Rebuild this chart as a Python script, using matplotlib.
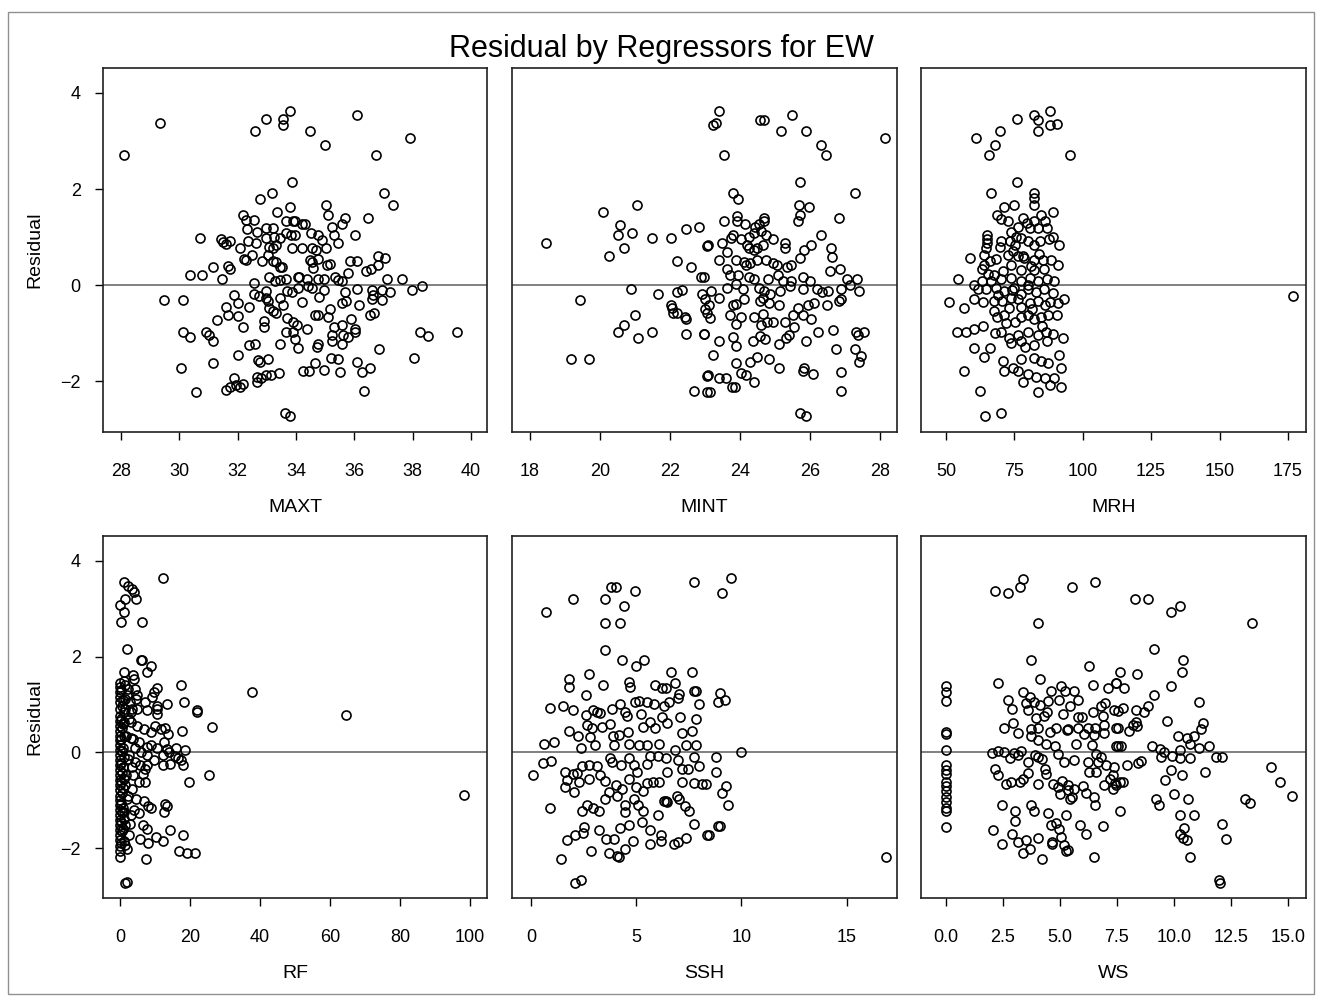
import matplotlib
matplotlib.use("Agg")
import matplotlib.pyplot as plt
from matplotlib.patches import Rectangle

plt.rcParams['font.family'] = ['Liberation Sans', 'DejaVu Sans']

TITLE = "Residual by Regressors for EW"
YLABEL = "Residual"
REGRESSORS = ["MAXT", "MINT", "MRH", "RF", "SSH", "WS"]

Y_TICKS = [-2, 0, 2, 4]
X_TICKS = {
    "MAXT": [28, 30, 32, 34, 36, 38, 40],
    "MINT": [18, 20, 22, 24, 26, 28],
    "MRH": [50, 75, 100, 125, 150, 175],
    "RF": [0, 20, 40, 60, 80, 100],
    "SSH": [0, 5, 10, 15],
    "WS": [0.0, 2.5, 5.0, 7.5, 10.0, 12.5, 15.0],
}
X_TICK_LABELS = {
    "WS": ["0.0", "2.5", "5.0", "7.5", "10.0", "12.5", "15.0"],
}

MAXT_PTS = [
    (28.1, 2.70), (29.35, 3.37), (32.6, 3.2), (32.98, 3.45), (33.55, 3.46), (33.55, 3.33), (33.78, 3.63),
    (33.85, 2.14), (33.19, 1.92), (32.75, 1.79), (33.35, 1.52), (33.78, 1.62), (32.18, 1.45), (32.27, 1.36),
    (32.55, 1.35), (32.32, 1.17), (32.66, 1.10), (32.98, 1.19), (33.21, 1.19), (33.64, 1.34), (33.9, 1.34),
    (30.72, 0.99), (31.44, 0.95), (31.49, 0.89), (31.59, 0.85), (31.75, 0.92), (32.09, 0.77), (32.34, 0.91),
    (32.64, 0.88), (32.96, 0.98), (33.23, 1.01), (33.44, 0.98), (33.64, 1.08), (33.84, 1.05), (33.09, 0.80),
    (33.21, 0.77), (33.32, 0.84), (33.85, 0.77), (32.23, 0.55), (32.27, 0.52), (32.5, 0.62), (32.82, 0.51),
    (33.03, 0.63), (33.21, 0.51), (33.3, 0.47), (33.44, 0.37), (33.51, 0.38), (30.35, 0.20), (30.79, 0.20),
    (31.15, 0.37), (31.45, 0.12), (31.65, 0.40), (31.72, 0.34), (32.55, 0.04), (33.09, 0.16), (33.28, 0.08),
    (33.44, 0.11), (33.64, 0.13), (34.08, 0.16), (29.48, -0.31), (30.12, -0.31), (31.86, -0.20), (32.02, -0.37),
    (32.39, -0.45), (32.55, -0.19), (32.73, -0.22), (32.98, -0.12), (32.96, -0.27), (33.03, -0.34), (33.46, -0.27),
    (33.69, -0.12), (33.85, -0.15), (31.61, -0.45), (31.68, -0.62), (32.02, -0.65), (32.18, -0.88), (33.07, -0.47),
    (33.21, -0.55), (33.32, -0.59), (33.55, -0.42), (33.69, -0.69), (33.89, -0.76), (31.29, -0.72), (32.91, -0.74),
    (32.91, -0.87), (33.64, -0.97), (33.89, -0.98), (33.98, -1.12), (30.12, -0.98), (30.37, -1.09), (30.92, -0.98),
    (31.01, -1.04), (31.15, -1.16), (33.44, -1.22), (32.39, -1.24), (32.61, -1.22), (32.02, -1.45), (32.68, -1.56),
    (32.75, -1.61), (33.03, -1.55), (30.05, -1.72), (31.15, -1.62), (32.66, -1.92), (32.66, -2.01), (32.8, -1.94),
    (32.98, -1.88), (33.15, -1.87), (33.41, -1.84), (31.86, -1.94), (31.61, -2.19), (31.75, -2.13), (31.93, -2.08),
    (32.07, -2.12), (32.18, -2.06), (30.58, -2.23), (33.62, -2.67), (33.78, -2.72),
    (36.09, 3.55), (34.49, 3.2), (34.99, 2.92), (37.92, 3.06), (36.75, 2.70), (37.03, 1.92), (37.33, 1.66),
    (35.02, 1.66), (35.08, 1.45), (35.68, 1.39), (35.59, 1.27), (36.46, 1.39), (35.22, 1.21), (35.31, 1.05),
    (35.45, 0.87), (36.02, 1.05), (33.97, 1.33), (34.22, 1.27), (34.31, 1.27), (33.97, 1.05), (34.51, 1.09),
    (34.77, 1.05), (34.88, 0.94), (34.19, 0.77), (34.56, 0.77), (34.67, 0.74), (35.02, 0.77), (34.47, 0.52),
    (34.56, 0.49), (34.77, 0.55), (34.58, 0.36), (35.06, 0.42), (35.15, 0.44), (35.84, 0.51), (36.09, 0.51),
    (36.82, 0.6), (37.05, 0.56), (36.8, 0.42), (36.41, 0.30), (36.57, 0.34), (35.79, 0.26), (34.1, 0.16),
    (34.38, 0.13), (34.77, 0.13), (34.95, 0.13), (35.34, 0.16), (35.45, 0.1), (37.12, 0.12), (37.62, 0.12),
    (34.08, -0.06), (34.42, -0.03), (34.54, -0.06), (34.79, -0.24), (34.95, -0.11), (35.56, 0.08), (35.68, -0.14),
    (36.09, -0.08), (36.59, -0.1), (36.64, -0.2), (36.96, -0.11), (37.21, -0.14), (37.99, -0.1), (38.33, -0.02),
    (34.22, -0.36), (35.56, -0.37), (35.72, -0.34), (36.16, -0.42), (36.62, -0.28), (36.96, -0.31), (34.65, -0.63),
    (34.77, -0.63), (35.11, -0.66), (35.15, -0.49), (35.9, -0.70), (36.53, -0.63), (36.69, -0.59), (34.03, -0.83),
    (34.38, -0.92), (35.29, -0.88), (35.59, -0.84), (36.02, -0.92), (36.02, -0.98), (35.25, -1.04), (35.61, -1.04),
    (35.79, -1.09), (38.26, -0.98), (38.51, -1.06), (39.52, -0.98), (34.08, -1.31), (34.72, -1.30), (34.77, -1.23),
    (35.25, -1.17), (35.59, -1.23), (36.85, -1.33), (34.65, -1.63), (34.24, -1.80), (34.45, -1.80), (34.95, -1.77),
    (35.2, -1.51), (35.45, -1.55), (35.52, -1.81), (36.09, -1.61), (36.25, -1.81), (36.55, -1.73), (38.06, -1.51),
    (36.32, -2.20),
]

MINT_PTS = [
    (18.46, 0.87), (20.1, 1.52), (21.07, 1.66), (20.57, 1.26), (20.51, 1.05), (20.93, 1.09), (21.49, 0.99),
    (22.04, 0.99), (22.46, 1.17), (22.82, 1.21), (20.7, 0.77), (20.27, 0.6), (22.21, 0.51), (22.59, 0.38),
    (22.88, 0.16), (23.05, 0.81), (20.88, -0.09), (21.66, -0.19), (22.21, -0.15), (22.34, -0.10), (22.93, -0.19),
    (19.43, -0.32), (22.02, -0.41), (22.06, -0.47), (22.1, -0.59), (22.21, -0.58), (22.44, -0.66), (22.46, -0.70),
    (22.99, -0.30), (23.01, -0.49), (23.05, -0.59), (21.01, -0.63), (20.7, -0.84), (20.51, -0.98), (21.1, -1.11),
    (21.49, -0.98), (22.46, -1.02), (22.97, -1.02), (19.18, -1.55), (19.68, -1.55), (23.05, -1.90), (22.69, -2.20),
    (23.05, -2.22),
    (23.41, 3.63), (23.24, 3.33), (23.31, 3.38), (24.57, 3.44), (24.68, 3.44), (25.48, 3.55), (25.18, 3.2),
    (25.9, 3.2), (26.32, 2.92), (26.46, 2.7), (28.15, 3.06), (23.54, 2.70), (25.73, 2.14), (23.79, 1.92),
    (23.94, 1.79), (27.3, 1.92), (25.68, 1.66), (25.98, 1.62), (25.73, 1.46), (25.66, 1.34), (26.82, 1.39),
    (23.54, 1.34), (23.92, 1.44), (23.92, 1.34), (24.15, 1.27), (24.69, 1.39), (24.7, 1.34), (24.42, 1.21),
    (24.55, 1.28), (23.1, 0.83), (23.48, 0.88), (23.75, 0.98), (23.79, 1.05), (24.04, 0.95), (24.25, 1.0),
    (24.4, 1.09), (24.59, 1.13), (24.76, 1.05), (24.95, 0.95), (24.19, 0.84), (24.27, 0.77), (24.4, 0.72),
    (24.5, 0.77), (24.65, 0.84), (25.28, 0.88), (25.28, 0.78), (25.83, 0.73), (26.04, 0.83), (26.32, 1.05),
    (23.41, 0.52), (23.62, 0.69), (23.89, 0.52), (24.11, 0.49), (24.17, 0.42), (24.3, 0.46), (24.5, 0.52),
    (24.74, 0.52), (24.95, 0.46), (25.07, 0.42), (25.35, 0.37), (25.45, 0.42), (25.73, 0.56), (26.61, 0.77),
    (26.63, 0.59), (26.57, 0.30), (26.86, 0.33), (23.64, 0.34), (23.73, 0.21), (23.96, 0.21), (24.25, 0.16),
    (24.4, 0.13), (24.8, 0.12), (25.09, 0.2), (25.22, 0.08), (25.47, 0.08), (25.79, 0.16), (26.0, 0.08),
    (27.07, 0.12), (27.35, 0.12), (27.16, 0.0), (22.97, 0.16), (23.18, -0.13), (23.41, -0.27), (23.64, -0.06),
    (23.9, 0.02), (24.1, -0.09), (24.55, -0.06), (24.69, -0.13), (24.86, -0.19), (25.14, -0.13), (25.43, -0.01),
    (25.79, -0.09), (26.21, -0.08), (26.34, -0.15), (26.51, -0.12), (26.88, -0.09), (27.41, -0.13), (23.12, -0.42),
    (23.16, -0.69), (23.79, -0.42), (23.89, -0.40), (24.13, -0.29), (24.57, -0.34), (24.67, -0.27), (24.84, -0.37),
    (25.12, -0.41), (25.66, -0.48), (25.79, -0.63), (25.96, -0.42), (26.11, -0.37), (26.49, -0.42), (26.82, -0.34),
    (26.88, -0.30), (23.73, -0.62), (24.04, -0.66), (24.4, -0.66), (24.65, -0.60), (24.95, -0.76), (25.29, -0.76),
    (25.52, -0.63), (26.04, -0.70), (22.97, -1.02), (23.9, -0.81), (24.61, -0.83), (24.78, -0.76), (23.41, -1.16),
    (23.79, -1.08), (23.89, -1.26), (24.38, -1.16), (24.57, -1.06), (24.72, -1.12), (25.12, -1.23), (25.31, -1.11),
    (25.41, -1.04), (25.56, -0.87), (25.9, -1.16), (26.23, -0.98), (26.65, -0.94), (27.33, -0.98), (27.54, -0.98),
    (27.37, -1.04), (23.24, -1.45), (23.9, -1.63), (24.3, -1.60), (24.48, -1.49), (24.82, -1.55), (25.12, -1.72),
    (25.79, -1.80), (26.08, -1.86), (26.76, -1.33), (27.29, -1.34), (27.45, -1.48), (27.41, -1.61), (23.09, -1.88),
    (23.39, -1.94), (23.6, -1.94), (23.77, -2.12), (23.85, -2.12), (24.04, -1.83), (24.17, -1.87), (24.4, -2.02),
    (25.83, -1.73), (26.88, -1.81), (26.88, -2.20), (23.16, -2.23), (25.73, -2.67), (25.89, -2.73),
]

MRH_PTS = [
    (88.1, 3.63), (82.04, 3.55), (83.5, 3.44), (88.13, 3.33), (90.57, 3.35), (83.5, 3.2), (75.95, 3.46),
    (69.61, 3.2), (61.08, 3.06), (67.91, 2.92), (65.71, 2.70), (95.2, 2.70), (75.95, 2.14), (66.45, 1.92),
    (82.04, 1.92), (82.04, 1.81), (82.04, 1.67), (71.07, 1.62), (74.97, 1.67), (89.1, 1.52), (68.64, 1.45),
    (70.1, 1.37), (72.78, 1.33), (78.14, 1.39), (82.04, 1.33), (84.72, 1.45), (86.18, 1.34), (64.98, 1.05),
    (64.98, 0.96), (64.98, 0.87), (64.74, 0.77), (70.1, 0.91), (73.75, 1.10), (76.19, 1.21), (80.58, 1.19),
    (83.74, 1.19), (86.91, 1.19), (89.1, 1.01), (91.3, 0.84), (69.61, 0.80), (73.51, 0.91), (75.22, 0.84),
    (77.41, 0.98), (79.85, 0.91), (82.29, 0.84), (84.23, 0.91), (58.65, 0.56), (64.01, 0.63), (68.15, 0.55),
    (72.78, 0.63), (76.19, 0.60), (78.63, 0.56), (82.29, 0.52), (85.45, 0.52), (88.37, 0.53), (91.05, 0.41),
    (63.76, 0.42), (63.28, 0.33), (65.23, 0.22), (73.75, 0.42), (77.41, 0.31), (82.29, 0.31), (85.94, 0.33),
    (54.26, 0.13), (60.11, 0.0), (63.28, 0.08), (66.45, 0.08), (70.1, 0.12), (73.75, 0.15), (77.41, 0.08),
    (80.58, 0.15), (83.5, 0.08), (86.91, 0.13), (89.59, 0.08), (51.1, -0.36), (56.45, -0.48), (60.11, -0.30),
    (61.57, -0.09), (64.74, -0.09), (68.4, -0.06), (71.32, -0.13), (74.97, -0.06), (77.41, -0.19), (79.85, -0.09),
    (83.02, -0.15), (85.94, -0.08), (89.1, -0.17), (93.25, -0.30), (63.52, -0.36), (67.42, -0.34), (70.59, -0.34),
    (73.75, -0.27), (77.41, -0.45), (80.58, -0.37), (83.5, -0.33), (86.18, -0.42), (90.81, -0.38), (67.66, -0.55),
    (68.64, -0.67), (71.32, -0.62), (73.02, -0.48), (75.22, -0.76), (77.41, -0.67), (79.85, -0.62), (82.29, -0.70),
    (84.72, -0.66), (87.15, -0.62), (90.57, -0.63), (54.02, -0.98), (57.43, -0.98), (60.35, -0.92), (63.52, -0.86),
    (70.1, -0.97), (73.02, -1.11), (76.19, -1.04), (79.85, -0.97), (83.74, -1.04), (86.67, -0.97), (89.1, -1.02),
    (92.76, -1.11), (60.11, -1.31), (65.96, -1.31), (64.01, -1.49), (73.75, -1.21), (77.41, -1.17), (82.29, -1.24),
    (86.91, -1.17), (56.45, -1.80), (70.83, -1.59), (71.07, -1.79), (74.48, -1.73), (77.41, -1.55), (82.29, -1.52),
    (84.72, -1.59), (87.15, -1.63), (91.3, -1.45), (92.03, -1.72), (76.19, -1.80), (78.14, -2.01), (79.85, -1.86),
    (83.02, -1.91), (86.18, -1.94), (88.13, -2.08), (89.59, -1.94), (92.03, -2.12), (83.5, -2.23), (62.55, -2.20),
    (64.25, -2.72), (70.1, -2.67), (177.0, -0.23),
    (66.0, 0.50), (67.5, 0.20), (69.0, -0.20), (71.0, 0.30), (72.0, -0.80), (74.5, 0.70), (76.5, -0.30),
    (78.0, 0.60), (79.0, -1.30), (81.0, 0.40), (81.5, -0.50), (84.0, 0.65), (85.0, -0.85), (87.5, 0.95),
    (88.0, -0.35), (75.5, 1.00), (79.5, 1.30), (68.0, -1.00), (80.0, 0.00), (74.0, -0.10),
]

RF_PTS = [
    (1.1, 3.56), (2.3, 3.48), (3.4, 3.42), (4.0, 3.35), (4.6, 3.21), (1.5, 3.21), (0.0, 3.08), (1.0, 2.94),
    (0.2, 2.73), (6.3, 2.72), (12.4, 3.64), (2.1, 2.15), (5.9, 1.94), (6.3, 1.92), (8.8, 1.81), (7.6, 1.67),
    (1.0, 1.67), (3.8, 1.62), (4.0, 1.53), (17.3, 1.41), (37.8, 1.27), (64.5, 0.78), (98.4, -0.88),
    (0.0, 1.46), (0.0, 1.36), (0.0, 1.26), (0.0, 1.16), (0.0, 1.05), (0.0, 0.91), (0.0, 0.77), (0.0, 0.66),
    (0.0, 0.56), (0.0, 0.45), (0.0, 0.35), (0.0, 0.25), (0.0, 0.15), (0.0, 0.05), (0.0, -0.06), (0.0, -0.16),
    (0.0, -0.27), (0.0, -0.37), (0.0, -0.48), (0.0, -0.58), (0.0, -0.69), (0.0, -0.79), (0.0, -0.90), (0.0, -1.00),
    (0.0, -1.10), (0.0, -1.20), (0.0, -1.31), (0.0, -1.41), (0.0, -1.52), (0.0, -1.62), (0.0, -1.73), (0.0, -1.83),
    (0.0, -1.95), (0.0, -2.05), (0.0, -2.18),
    (0.4, 1.30), (0.5, 0.98), (0.3, 0.70), (0.6, 0.50), (0.4, 0.28), (0.5, 0.02), (0.3, -0.22), (0.6, -0.42),
    (0.4, -0.62), (0.5, -0.85), (0.3, -1.05), (0.6, -1.25), (0.4, -1.45), (0.5, -1.65), (0.3, -1.90), (0.8, 1.10),
    (0.9, 0.60), (0.8, 0.10), (0.9, -0.30), (0.8, -0.75), (0.9, -1.15), (0.8, -1.60), (1.0, 1.50), (1.1, 0.85),
    (1.2, 0.35), (1.1, -0.10), (1.0, -0.55), (1.2, -1.40), (1.1, -1.85), (2.5, 0.70), (2.6, -0.05), (2.4, -0.90),
    (2.0, 1.20), (3.5, 0.90), (3.0, 0.30), (3.3, -0.30), (2.8, -1.50), (4.2, 0.10), (4.0, -1.20),
    (1.33, 1.40), (2.29, 1.33), (4.19, 1.33), (4.95, 1.20), (1.33, 1.12), (2.86, 1.05), (4.57, 1.12), (1.52, 0.91),
    (3.05, 0.84), (4.95, 0.91), (7.24, 1.05), (7.81, 0.88), (10.48, 1.35), (9.71, 1.26), (9.14, 1.16), (10.67, 0.98),
    (10.67, 0.91), (10.67, 0.80), (13.52, 1.01), (18.29, 1.06), (22.1, 0.88), (22.1, 0.84), (26.3, 0.53), (17.7, 0.44),
    (1.14, 0.63), (3.05, 0.63), (4.95, 0.56), (6.86, 0.49), (8.76, 0.42), (9.9, 0.56), (11.62, 0.49), (12.95, 0.51),
    (13.71, 0.38), (1.71, 0.35), (3.62, 0.28), (5.33, 0.21), (7.62, 0.12), (8.76, 0.15), (10.67, 0.10), (12.57, 0.21),
    (13.52, 0.08), (16.0, 0.10), (18.48, 0.06), (5.9, 0.01), (7.81, -0.06), (9.71, -0.15), (12.19, -0.06),
    (14.1, 0.0), (15.81, -0.08), (16.57, -0.12), (17.52, -0.16), (2.29, -0.13), (4.19, -0.20), (5.71, -0.26),
    (7.24, -0.34), (12.19, -0.27), (14.29, -0.24), (18.1, -0.27), (19.81, -0.62), (25.33, -0.48), (1.71, -0.48),
    (3.81, -0.48), (6.48, -0.45), (7.62, -0.27), (1.52, -0.69), (3.43, -0.76), (5.52, -0.62), (7.05, -0.62),
    (2.1, -0.97), (4.57, -0.97), (6.86, -1.01), (8.0, -1.11), (8.95, -1.16), (12.95, -1.08), (13.52, -1.11),
    (12.57, -1.24), (1.14, -1.24), (3.05, -1.30), (5.33, -1.26), (1.33, -1.52), (2.48, -1.72), (6.67, -1.52),
    (7.81, -1.59), (14.29, -1.61), (18.1, -1.72), (5.71, -1.80), (8.0, -1.90), (10.29, -1.76), (12.38, -1.86),
    (2.1, -2.01), (1.52, -1.94), (16.76, -2.06), (19.05, -2.09), (21.52, -2.09), (7.43, -2.22), (1.33, -2.73),
    (1.9, -2.70),
]

SSH_PTS = [
    (9.51, 3.64), (9.1, 3.33), (8.97, 1.24), (8.87, 1.06), (9.22, 1.09), (9.98, 0.0), (8.78, -0.09), (8.78, -0.40),
    (8.33, -0.66), (9.29, -0.70), (9.1, -0.84), (9.38, -1.09), (8.46, -1.72), (8.87, -1.54), (8.97, -1.54),
    (16.87, -2.19),
    (7.76, 3.56), (3.82, 3.46), (4.05, 3.46), (4.97, 3.38), (3.54, 3.2), (4.43, 3.06), (2.02, 3.2), (0.71, 2.94),
    (3.54, 2.71), (4.21, 2.71), (3.54, 2.14), (4.33, 1.92), (5.0, 1.81), (5.38, 1.94), (1.83, 1.53), (1.83, 1.37),
    (2.75, 1.63), (3.41, 1.41), (4.65, 1.48), (4.71, 1.37), (2.62, 1.19), (6.68, 1.67), (7.67, 1.67), (5.92, 1.41),
    (6.24, 1.34), (6.43, 1.35), (6.87, 1.46), (7.03, 1.23), (7.76, 1.28), (7.86, 1.28), (7.98, 1.02), (0.9, 0.92),
    (1.51, 0.96), (2.02, 0.88), (2.62, 0.78), (2.94, 0.88), (3.13, 0.84), (3.29, 0.83), (3.86, 0.9), (4.24, 1.02),
    (4.49, 0.84), (4.97, 1.06), (5.13, 1.08), (5.51, 1.06), (5.83, 1.01), (6.33, 0.96), (6.56, 1.06), (6.97, 1.13),
    (2.68, 0.58), (2.9, 0.52), (3.38, 0.53), (3.76, 0.59), (3.89, 0.35), (4.17, 0.37), (4.56, 0.77), (4.59, 0.42),
    (5.25, 0.8), (5.35, 0.53), (5.67, 0.63), (5.92, 0.52), (6.24, 0.74), (6.49, 0.62), (7.1, 0.74), (7.19, 0.41),
    (7.67, 0.44), (7.86, 0.7), (0.62, 0.17), (1.1, 0.21), (1.83, 0.44), (2.24, 0.35), (2.37, 0.10), (2.81, 0.33),
    (3.06, 0.15), (3.95, 0.15), (4.65, 0.17), (5.13, 0.15), (5.54, 0.15), (6.08, 0.17), (6.87, 0.05), (7.35, 0.16),
    (7.83, 0.15), (0.59, -0.23), (0.94, -0.17), (1.63, -0.40), (2.17, -0.42), (2.43, -0.29), (2.78, -0.27),
    (3.16, -0.29), (3.76, -0.12), (3.86, -0.20), (4.27, -0.27), (4.65, -0.12), (4.9, -0.26), (5.06, -0.41),
    (5.51, -0.24), (5.67, -0.08), (6.05, -0.08), (6.43, -0.12), (6.97, -0.15), (7.19, -0.34), (7.48, -0.34),
    (7.76, -0.09), (7.98, -0.29), (0.08, -0.48), (1.98, -0.45), (2.27, -0.62), (1.7, -0.58), (1.6, -0.73),
    (2.05, -0.83), (2.75, -0.55), (3.29, -0.47), (3.54, -0.59), (4.05, -0.67), (4.65, -0.56), (5.0, -0.73),
    (5.35, -0.80), (5.54, -0.63), (5.79, -0.62), (6.11, -0.62), (6.46, -0.40), (7.16, -0.62), (7.76, -0.63),
    (8.14, -0.66), (0.9, -1.15), (2.43, -1.22), (2.68, -1.09), (2.94, -1.17), (3.25, -1.22), (3.51, -0.97),
    (3.7, -0.83), (4.08, -0.90), (4.33, -0.76), (4.49, -1.09), (4.46, -1.24), (4.9, -0.97), (5.09, -1.09),
    (5.35, -1.22), (6.02, -1.31), (6.33, -1.01), (6.40, -1.02), (6.46, -1.04), (6.94, -0.90), (7.03, -0.98),
    (7.32, -1.12), (7.51, -1.23), (1.73, -1.83), (2.11, -1.72), (2.49, -1.69), (2.52, -1.56), (3.22, -1.62),
    (3.57, -1.80), (3.95, -1.80), (4.24, -1.58), (4.68, -1.52), (4.87, -1.86), (5.29, -1.45), (5.67, -1.62),
    (5.67, -1.92), (6.17, -1.73), (6.17, -1.86), (6.78, -1.92), (6.97, -1.87), (7.35, -1.79), (7.76, -1.49),
    (8.37, -1.72), (1.41, -2.22), (2.84, -2.05), (3.7, -2.10), (4.08, -2.16), (4.17, -2.19), (4.46, -2.01),
    (2.11, -2.73), (2.37, -2.67),
]

WS_PTS = [
    (0.0, 1.38), (0.0, 1.27), (0.0, 1.08), (0.0, 0.42), (0.0, 0.38), (0.0, 0.05), (0.0, -0.26), (0.0, -0.37),
    (0.0, -0.45), (0.0, -0.62), (0.0, -0.70), (0.0, -0.81), (0.0, -0.94), (0.0, -1.04), (0.0, -1.17), (0.0, -1.23),
    (0.0, -1.56),
    (2.15, 3.38), (2.73, 3.33), (3.23, 3.46), (3.38, 3.63), (5.51, 3.46), (6.54, 3.55), (4.02, 2.71), (3.73, 1.92),
    (6.27, 1.80), (2.27, 1.45), (4.11, 1.53), (6.45, 1.41), (7.09, 1.35), (7.44, 1.45), (2.73, 1.10), (2.88, 0.90),
    (3.38, 1.27), (3.67, 1.16), (3.49, 1.03), (3.87, 1.06), (4.11, 0.99), (4.46, 1.08), (4.61, 1.28), (4.96, 1.09),
    (5.04, 1.38), (5.22, 1.28), (5.63, 1.28), (5.81, 1.09), (5.45, 0.96), (5.13, 0.80), (5.78, 0.74), (5.95, 0.74),
    (6.45, 0.84), (6.8, 0.96), (6.97, 1.03), (6.89, 0.77), (7.38, 0.88), (3.58, 0.88), (3.93, 0.71), (4.31, 0.77),
    (4.43, 0.84), (2.56, 0.52), (2.94, 0.62), (3.17, 0.40), (3.73, 0.49), (3.73, 0.35), (4.02, 0.52), (4.02, 0.27),
    (4.55, 0.42), (4.81, 0.52), (5.31, 0.47), (5.37, 0.49), (5.81, 0.52), (6.07, 0.38), (6.21, 0.52), (6.54, 0.52),
    (6.51, 0.37), (6.92, 0.41), (6.92, 0.58), (7.44, 0.52), (2.03, -0.02), (2.27, 0.03), (2.53, 0.01), (2.82, -0.11),
    (2.97, -0.01), (3.17, -0.06), (3.29, 0.02), (3.61, -0.20), (3.9, -0.06), (4.05, -0.09), (4.4, 0.17), (4.78, 0.13),
    (4.9, -0.04), (5.19, -0.20), (5.63, -0.15), (5.69, 0.17), (6.21, -0.20), (6.39, 0.15), (6.59, -0.04),
    (6.65, -0.20), (6.8, -0.09), (7.03, -0.27), (7.44, 0.13), (2.15, -0.34), (2.27, -0.47), (2.65, -0.66),
    (2.85, -0.62), (3.23, -0.62), (3.38, -0.55), (3.58, -0.42), (4.02, -0.65), (4.22, -0.13), (4.34, -0.34),
    (4.4, -0.45), (4.69, -0.65), (4.93, -0.73), (4.99, -0.86), (5.1, -0.59), (5.34, -0.79), (5.37, -0.67),
    (5.42, -0.97), (5.54, -0.94), (5.63, -0.77), (6.01, -0.70), (6.16, -0.84), (6.27, -0.40), (6.51, -0.94),
    (6.59, -0.40), (6.94, -0.67), (7.18, -0.55), (7.38, -0.31), (7.44, -0.69), (2.44, -1.09), (3.03, -1.23),
    (3.03, -1.44), (3.73, -1.09), (3.85, -1.22), (4.49, -1.26), (4.61, -1.52), (4.81, -1.47), (4.96, -1.59),
    (5.25, -1.31), (5.86, -1.52), (6.13, -1.70), (6.54, -1.09), (6.89, -1.54), (2.06, -1.62), (2.44, -1.92),
    (2.91, -1.70), (3.14, -1.88), (3.38, -2.09), (3.49, -1.83), (3.7, -2.01), (4.02, -1.79), (4.22, -2.22),
    (4.66, -1.88), (4.66, -1.92), (5.04, -1.77), (5.19, -1.94), (5.25, -2.06), (5.34, -2.04), (6.51, -2.19),
    (8.29, 3.2), (8.85, 3.2), (9.87, 2.94), (10.25, 3.06), (13.41, 2.71), (9.14, 2.15), (10.42, 1.92), (10.34, 1.67),
    (9.87, 1.39), (7.65, 1.67), (8.38, 1.63), (7.47, 1.45), (7.82, 1.35), (9.14, 1.19), (8.85, 0.96), (8.7, 0.84),
    (8.35, 0.88), (7.76, 0.92), (7.56, 0.87), (11.1, 1.06), (7.56, 0.52), (8.03, 0.44), (8.2, 0.58), (8.35, 0.63),
    (8.38, 0.56), (9.69, 0.66), (10.16, 0.34), (10.57, 0.31), (10.89, 0.35), (11.18, 0.48), (11.27, 0.62),
    (7.53, 0.13), (7.68, 0.13), (9.05, 0.13), (9.37, 0.08), (9.55, 0.0), (9.9, -0.08), (10.25, 0.05), (10.72, 0.17),
    (11.1, 0.09), (11.56, 0.13), (11.86, -0.09), (12.12, -0.09), (9.43, -0.09), (10.28, -0.12), (10.72, -0.12),
    (7.94, -0.26), (8.44, -0.23), (8.55, -0.17), (9.87, -0.36), (10.34, -0.48), (9.61, -0.58), (11.36, -0.40),
    (14.26, -0.30), (14.64, -0.62), (15.19, -0.91), (7.33, -0.48), (7.41, -0.63), (7.62, -0.62), (7.76, -0.62),
    (7.33, -0.76), (9.23, -0.97), (9.34, -1.09), (9.99, -0.87), (10.63, -0.98), (13.14, -0.97), (13.32, -1.05),
    (7.65, -1.23), (10.28, -1.31), (10.89, -1.31), (10.45, -1.58), (10.28, -1.70), (10.42, -1.79), (10.57, -1.83),
    (10.72, -2.19), (12.12, -1.49), (12.3, -1.80), (12.0, -2.67), (12.03, -2.72),
]

PANEL_DATA = {
    "MAXT": MAXT_PTS, "MINT": MINT_PTS, "MRH": MRH_PTS,
    "RF": RF_PTS, "SSH": SSH_PTS, "WS": WS_PTS,
}

X_LIMITS = {
    "MAXT": (27.38, 40.55), "MINT": (17.49, 28.49), "MRH": (40.9, 181.6),
    "RF": (-4.86, 104.86), "SSH": (-0.9, 17.4), "WS": (-1.1, 15.8),
}

W, H = 1322, 998
fig = plt.figure(figsize=(W / 100, H / 100), dpi=100)

# outer frame
fig.patches.append(Rectangle((8 / W, 4 / H), (1314 - 8) / W, (994 - 12) / H,
                             transform=fig.transFigure, fill=False,
                             edgecolor='#909090', linewidth=1.0))

fig.text(0.5, 1 - 49 / H, TITLE, ha='center', va='center', fontsize=22)

col_px = [(103, 487), (512, 897), (921, 1306)]
row_px = [(68, 432), (536, 898)]
row_ylim = [(-3.06, 4.52), (-3.04, 4.52)]

for i, name in enumerate(REGRESSORS):
    r, c = divmod(i, 3)
    x0, x1 = col_px[c]
    y0, y1 = row_px[r]
    ax = fig.add_axes([x0 / W, 1 - y1 / H, (x1 - x0) / W, (y1 - y0) / H])
    pts = PANEL_DATA[name]
    xs = [p[0] for p in pts]
    ys = [p[1] for p in pts]
    ax.axhline(0, color='#808080', lw=1.4, zorder=1)
    ax.plot(xs, ys, linestyle='none', marker='o', markerfacecolor='none',
            markeredgecolor='black', markersize=6.5, markeredgewidth=1.2, zorder=3)
    ax.set_xlim(*X_LIMITS[name])
    ax.set_ylim(*row_ylim[r])
    ax.set_xticks(X_TICKS[name])
    if name in X_TICK_LABELS:
        ax.set_xticklabels(X_TICK_LABELS[name])
    ax.set_yticks(Y_TICKS)
    ax.tick_params(axis='both', direction='out', length=6, width=1.0,
                   labelsize=13, color='black')
    ax.tick_params(axis='x', pad=16)
    ax.tick_params(axis='y', pad=10)
    if c == 0:
        ax.set_ylabel(YLABEL, fontsize=14, labelpad=12)
    else:
        ax.tick_params(axis='y', left=False, labelleft=False)
    ax.set_xlabel(name, fontsize=14, labelpad=14)
    for sp in ax.spines.values():
        sp.set_linewidth(1.2)
        sp.set_color('#202020')

fig.savefig("out.png", dpi=100)
